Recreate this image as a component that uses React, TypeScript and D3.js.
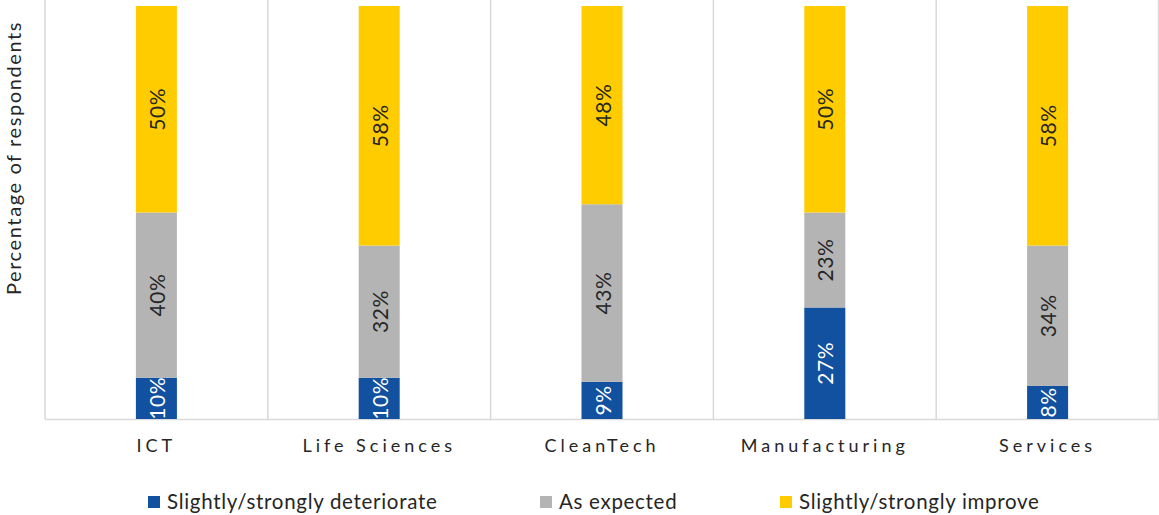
import React from "react";
import * as d3 from "d3";

const categories = ["ICT", "Life Sciences", "CleanTech", "Manufacturing", "Services"];
const seriesNames = ["Slightly/strongly deteriorate", "As expected", "Slightly/strongly improve"];
const deteriorate = [10, 10, 9, 27, 8];
const asExpected = [40, 32, 43, 23, 34];
const improve = [50, 58, 48, 50, 58];
const colors = ["#1250A0", "#B4B4B4", "#FFCC00"];
const labelColors = ["#FFFFFF", "#262626", "#262626"];

const W = 1159;
const H = 515;
const FONT = "Lato, 'Open Sans', sans-serif";

export default function App() {
  const left = 45, right = 1159, top = 6, bottom = 419;
  const x = d3.scaleBand<string>().domain(categories).range([left, right]).paddingInner(0).paddingOuter(0);
  const y = d3.scaleLinear().domain([0, 100]).range([bottom, top]);
  const barW = 41;
  const rows = categories.map((c, i) => ({ cat: c, d: deteriorate[i], e: asExpected[i], m: improve[i] }));
  const stack = d3.stack<any>().keys(["d", "e", "m"])(rows);
  const gridXs = [...categories.map((c) => x(c)!), right - 0.5];
  const legendItems = [
    { name: seriesNames[0], sx: 148 },
    { name: seriesNames[1], sx: 540 },
    { name: seriesNames[2], sx: 780 },
  ];
  return (
    <svg width={W} height={H} style={{ position: "absolute", left: 0, top: 0, background: "#fff" }}>
      <defs>
        <clipPath id="plot">
          <rect x={left} y={top} width={right - left} height={bottom - top} />
        </clipPath>
      </defs>
      {gridXs.map((gx, i) => (
        <line key={i} x1={gx} x2={gx} y1={top - 6} y2={bottom} stroke="#D9D9D9" strokeWidth={1.5} />
      ))}
      <line x1={left} x2={right} y1={bottom + 0.5} y2={bottom + 0.5} stroke="#D9D9D9" strokeWidth={1.5} />
      {stack.map((s, si) =>
        s.map((seg, ci) => {
          const cx = x(categories[ci])! + x.bandwidth() / 2;
          return (
            <rect key={`${si}-${ci}`} x={cx - barW / 2} y={y(seg[1])} width={barW} height={y(seg[0]) - y(seg[1])} fill={colors[si]} />
          );
        })
      )}
      <g clipPath="url(#plot)">
        {stack.map((s, si) =>
          s.map((seg, ci) => {
            const cx = x(categories[ci])! + x.bandwidth() / 2;
            const cy = (y(seg[0]) + y(seg[1])) / 2;
            const v = seg[1] - seg[0];
            return (
              <text
                key={`t${si}-${ci}`}
                transform={`translate(${cx},${cy}) rotate(-90)`}
                textAnchor="middle"
                dominantBaseline="central"
                fontFamily={FONT}
                fontSize={21}
                letterSpacing={0.6}
                fill={labelColors[si]}
              >
                {`${v}%`}
              </text>
            );
          })
        )}
      </g>
      {categories.map((c) => (
        <text key={c} x={x(c)! + x.bandwidth() / 2} y={452} textAnchor="middle" fontFamily={FONT} fontSize={18} letterSpacing={4} fill="#262626">
          {c}
        </text>
      ))}
      <text transform={`translate(21,158) rotate(-90)`} textAnchor="middle" fontFamily={FONT} fontSize={20} letterSpacing={1.6} fill="#262626">
        Percentage of respondents
      </text>
      {legendItems.map((l, i) => (
        <g key={l.name}>
          <rect x={l.sx} y={496} width={12} height={12} fill={colors[i]} />
          <text x={l.sx + 19} y={509} fontFamily={FONT} fontSize={20.5} letterSpacing={0.7} fill="#262626">
            {l.name}
          </text>
        </g>
      ))}
    </svg>
  );
}
